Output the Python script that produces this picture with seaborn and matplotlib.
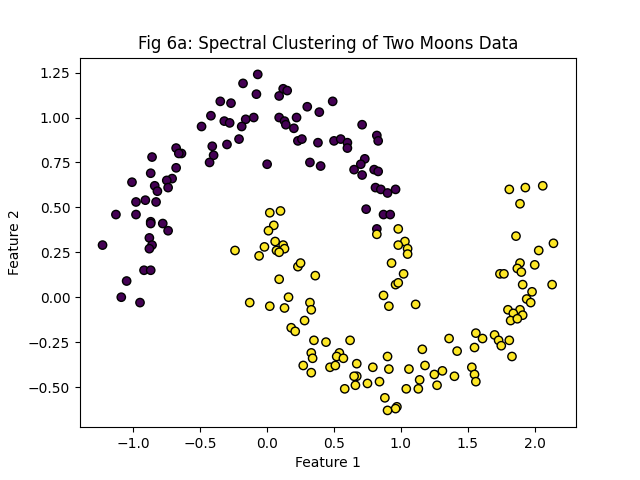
import pandas as pd
import seaborn as sns
import matplotlib.pyplot as plt

# cluster 0 (upper moon)
moon0_x = [-0.18, -0.35, -0.27, -0.42, -0.32, -0.28, -0.16, -0.19, -0.49, -0.21,
           -0.30, -0.41, -0.40, -0.43, -0.68, -0.64, -0.66, -0.86, -0.68, -0.87,
           -1.01, -0.71, -0.75, -0.84, -0.74, -0.82, -0.98, -0.91, -0.83, -1.13,
           -0.98, -0.87, -0.87, -0.78, -0.74, -0.88, -1.23, -0.86, -0.88, -0.92,
           -0.87, -1.05, -1.09, -0.95, -0.07, -0.08, 0.12, 0.15, 0.09, 0.49,
           0.30, 0.39, -0.10, 0.09, 0.13, 0.14, 0.22, 0.20, 0.71, 0.82,
           0.83, 0.23, 0.26, 0.38, 0.50, 0.55, 0.60, 0.60, 0.00, 0.32,
           0.40, 0.73, 0.70, 0.65, 0.71, 0.80, 0.83, 0.81, 0.85, 0.90,
           0.96, 0.74, 0.87, 0.92, 0.82]
moon0_y = [1.19, 1.09, 1.08, 1.01, 0.98, 0.97, 0.99, 0.95, 0.95, 0.88,
           0.85, 0.84, 0.79, 0.75, 0.83, 0.80, 0.80, 0.78, 0.72, 0.69,
           0.64, 0.66, 0.65, 0.62, 0.61, 0.59, 0.53, 0.54, 0.53, 0.46,
           0.46, 0.42, 0.41, 0.41, 0.37, 0.33, 0.29, 0.29, 0.27, 0.15,
           0.15, 0.09, 0.00, -0.03, 1.24, 1.13, 1.16, 1.15, 1.12, 1.09,
           1.06, 1.03, 1.00, 1.00, 0.98, 0.96, 1.00, 0.94, 0.96, 0.90,
           0.87, 0.87, 0.88, 0.86, 0.87, 0.88, 0.86, 0.83, 0.74, 0.75,
           0.73, 0.77, 0.74, 0.71, 0.68, 0.71, 0.70, 0.61, 0.60, 0.58,
           0.60, 0.49, 0.46, 0.46, 0.38]

# cluster 1 (lower moon)
moon1_x = [0.02, 0.10, 0.05, 0.01, 0.06, 0.12, -0.02, 0.13, 0.07, -0.06,
           0.09, -0.24, -0.13, 0.23, 0.25, 0.09, 0.36, 0.02, 0.13, 0.16,
           0.32, 0.33, 0.28, 0.18, 0.21, 0.35, 0.44, 0.62, 0.33, 0.34,
           0.27, 0.33, 0.54, 0.52, 0.57, 0.47, 0.51, 0.67, 0.79, 0.67,
           0.65, 0.66, 0.58, 0.75, 0.84, 0.90, 0.91, 1.06, 1.04, 0.88,
           0.97, 0.96, 0.90, 0.93, 1.02, 0.96, 0.98, 0.87, 0.91, 1.11,
           0.98, 1.03, 0.98, 1.05, 1.05, 0.82, 2.14, 2.03, 1.89, 1.87,
           1.90, 2.00, 1.74, 1.77, 1.91, 2.13, 1.98, 1.94, 1.97, 1.80,
           1.89, 1.84, 1.91, 1.82, 1.87, 1.56, 1.61, 1.36, 1.70, 1.73,
           1.81, 1.75, 1.55, 1.42, 1.16, 1.83, 1.18, 1.31, 1.25, 1.53,
           1.55, 1.56, 1.40, 1.14, 1.27, 1.13, 1.81, 1.93, 2.06, 1.89,
           1.86]
moon1_y = [0.47, 0.48, 0.40, 0.37, 0.31, 0.29, 0.28, 0.27, 0.26, 0.23,
           0.25, 0.26, -0.03, 0.17, 0.19, 0.10, 0.12, -0.05, -0.06, 0.00,
           -0.03, -0.07, -0.13, -0.17, -0.19, -0.24, -0.25, -0.24, -0.31, -0.34,
           -0.38, -0.42, -0.31, -0.33, -0.34, -0.39, -0.38, -0.37, -0.39, -0.44,
           -0.44, -0.49, -0.51, -0.48, -0.47, -0.33, -0.40, -0.40, -0.51, -0.56,
           -0.61, -0.62, -0.63, 0.19, 0.13, 0.07, 0.08, 0.01, -0.05, -0.04,
           0.38, 0.31, 0.29, 0.27, 0.24, 0.35, 0.30, 0.26, 0.19, 0.16,
           0.14, 0.18, 0.13, 0.13, 0.07, 0.07, 0.03, -0.01, -0.03, -0.07,
           -0.07, -0.09, -0.10, -0.13, -0.12, -0.20, -0.23, -0.23, -0.21, -0.24,
           -0.24, -0.27, -0.28, -0.30, -0.29, -0.33, -0.38, -0.41, -0.43, -0.39,
           -0.43, -0.47, -0.44, -0.46, -0.49, -0.51, 0.60, 0.61, 0.62, 0.52,
           0.34]

df = pd.DataFrame({
    "Feature 1": moon0_x + moon1_x,
    "Feature 2": moon0_y + moon1_y,
    "label": [0] * len(moon0_x) + [1] * len(moon1_x),
})

fig, ax = plt.subplots(figsize=(6.4, 4.8), dpi=100)
sns.scatterplot(
    data=df, x="Feature 1", y="Feature 2", hue="label",
    palette=["#440154", "#fde725"], edgecolor="black", linewidth=1,
    s=36, legend=False, ax=ax,
)
ax.set_title("Fig 6a: Spectral Clustering of Two Moons Data")
fig.savefig("out.png")
